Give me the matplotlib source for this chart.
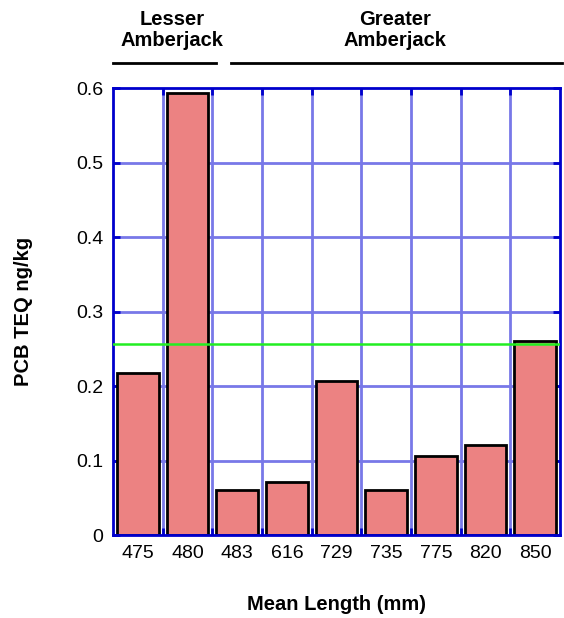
import numpy as np
import matplotlib.pyplot as plt

plt.rcParams['font.family'] = ['Liberation Sans', 'DejaVu Sans']

# Данные
lengths = ['475', '480', '483', '616', '729', '735', '775', '820', '850']
teq = [0.218, 0.593, 0.060, 0.071, 0.207, 0.060, 0.106, 0.121, 0.260]
threshold = 0.257
groups = ['Lesser\nAmberjack', 'Greater\nAmberjack']

fig = plt.figure(figsize=(5.64, 6.18), dpi=100)
ax = fig.add_axes([0.2004, 0.1343, 0.7925, 0.7233])

x = np.arange(len(lengths))
ax.set_xlim(-0.5, len(lengths) - 0.5)
ax.set_ylim(0, 0.6)

# Сетка
for xb in x[:-1] + 0.5:
    ax.axvline(xb, color='#7878e8', lw=2, zorder=0)
for yv in [0.1, 0.2, 0.3, 0.4, 0.5]:
    ax.axhline(yv, color='#7878e8', lw=2, zorder=0)

ax.bar(x, teq, width=0.84, color='#ec8282', edgecolor='black', linewidth=2, zorder=2)
ax.axhline(threshold, color='#22ee22', lw=1.8, zorder=3)

ax.set_xticks(x)
ax.set_xticklabels(lengths, fontsize=14)
ax.set_xticks(x[:-1] + 0.5, minor=True)
ax.tick_params(axis='x', which='major', length=0, pad=7)
ax.tick_params(axis='x', which='minor', direction='in', length=5, width=2,
               color='#0000cc', top=True)
ax.set_yticks([0, 0.1, 0.2, 0.3, 0.4, 0.5, 0.6])
ax.set_yticklabels(['0', '0.1', '0.2', '0.3', '0.4', '0.5', '0.6'], fontsize=14)
ax.tick_params(axis='y', direction='in', length=5, width=2, color='#0000cc',
               right=True, pad=7)
for s in ax.spines.values():
    s.set_color('#0000cc')
    s.set_linewidth(2)

ax.set_ylabel('PCB TEQ ng/kg', fontsize=14.5, fontweight='bold', labelpad=31)
ax.set_xlabel('Mean Length (mm)', fontsize=14.5, fontweight='bold', labelpad=24)

# Подписи групп
ax.plot([-0.5, 1.57], [0.634, 0.634], color='black', lw=2, clip_on=False)
ax.plot([1.87, 8.55], [0.634, 0.634], color='black', lw=2, clip_on=False)
ax.text(0.69, 0.678, groups[0], ha='center', va='center', fontsize=14.5,
        fontweight='bold', linespacing=1.1)
ax.text(5.17, 0.678, groups[1], ha='center', va='center', fontsize=14.5,
        fontweight='bold', linespacing=1.1)

plt.savefig('out.png', dpi=100)
